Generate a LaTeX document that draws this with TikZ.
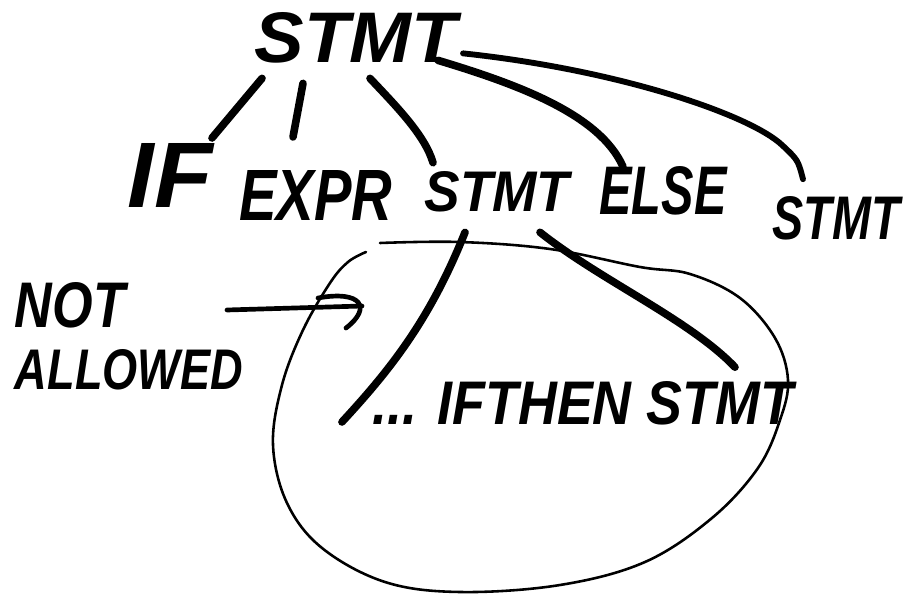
\documentclass[tikz,border=0pt]{standalone}
\usepackage{graphicx}
\usepackage{fontspec}
\newfontfamily\hwfont{Liberation Sans}
\newcommand\hwbox[3]{\resizebox{#1cm}{#2cm}{\hwfont\bfseries\itshape #3}}
\tikzset{
  lbl/.style={inner sep=0pt, outer sep=0pt},
  treeline/.style={line width=6.5pt, line cap=round},
  thinline/.style={line width=5pt, line cap=round},
  loopline/.style={line width=2.2pt, line cap=round, line join=round},
  arrowline/.style={line width=4pt, line cap=round, line join=round}
}
\begin{document}
\begin{tikzpicture}[x=0.03cm, y=-0.03cm]
\useasboundingbox (0,0) rectangle (903,596);
\fill[white] (0,0) rectangle (903,596);

% labels
\node[lbl] (top)   at (356,38)  {\hwbox{6.06}{1.5}{STMT}};
\node[lbl] (if)    at (170,175) {\hwbox{2.55}{1.92}{IF}};
\node[lbl] (expr)  at (316,195) {\hwbox{4.59}{1.5}{EXPR}};
\node[lbl] (stmtm) at (497,192) {\hwbox{4.35}{1.2}{STMT}};
\node[lbl] (else)  at (663,191) {\hwbox{3.81}{1.44}{ELSE}};
\node[lbl] (stmtr) at (836,218) {\hwbox{3.81}{1.29}{STMT}};
\node[lbl] (not)   at (70,305)  {\hwbox{3.3}{1.35}{NOT}};
\node[lbl] (allow) at (129,370) {\hwbox{6.84}{1.2}{ALLOWED}};
\node[lbl] (ifthen) at (583,403) {\hwbox{12.6}{1.29}{... IFTHEN STMT}};

% tree connectors
\draw[treeline] ([shift={(-94,15)}]top.south) -- ([shift={(42,-5)}]if.north);
\draw[treeline] ([shift={(-53,20)}]top.south) -- ([shift={(-23,-33)}]expr.north);
\draw[treeline] ([shift={(14,15)}]top.south) .. controls (395,105) and (425,135) .. ([shift={(-64,-9)}]stmtm.north);
\draw[treeline] ([shift={(82,-3)}]top.south) .. controls (520,85) and (600,115) .. ([shift={(-40,0)}]else.north);
\draw[thinline] ([shift={(107,-10)}]top.south) .. controls (620,70) and (750,115) .. (782,145)
   .. controls (798,160) .. ([shift={(-33,-17)}]stmtr.north);

\draw[treeline] ([shift={(-32,20)}]stmtm.south) .. controls (430,320) and (390,370) .. ([shift={(-31,19)}]ifthen.west);
\draw[treeline] ([shift={(43,20)}]stmtm.south) .. controls (600,280) and (690,320) .. ([shift={(152,-14)}]ifthen.north);

% loop
\draw[loopline] plot[smooth, tension=0.6] coordinates {
 (380,243) (460,242) (550,249) (640,267) (690,274) (740,298) (775,338) (788,380)
 (780,420) (758,468) (712,518) (645,562) (560,585) (460,592) (385,582) (322,548)
 (287,503) (273,445) (282,385) (303,330) (330,283) (348,262) (366,252)};

% arrow
\coordinate (a1) at (227,310);
\coordinate (a2) at (362,306);
\coordinate (h1) at (318,298);
\coordinate (h2) at (346,328);
\draw[arrowline] (a1) -- (a2);
\draw[arrowline] (h1) .. controls (362,290) and (372,308) .. (h2);
\end{tikzpicture}
\end{document}
